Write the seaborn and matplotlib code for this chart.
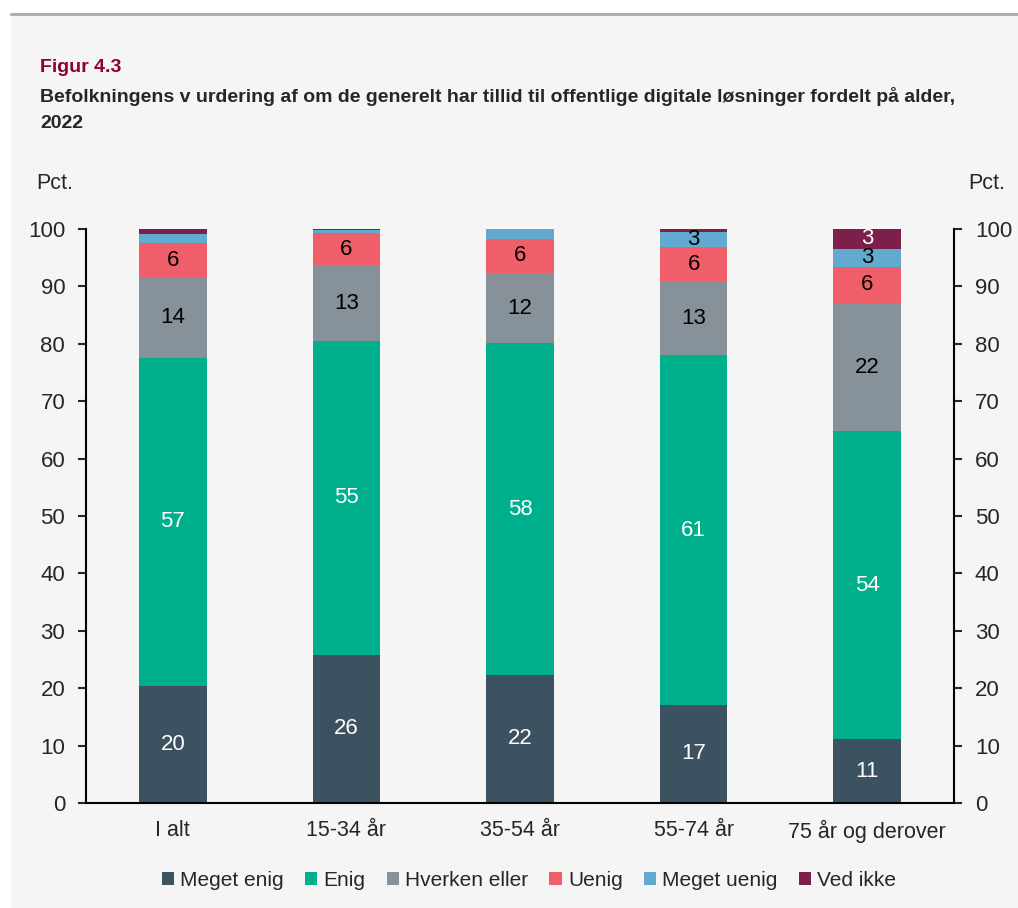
import numpy as np
import seaborn as sns
import matplotlib.pyplot as plt
from matplotlib.patches import Patch, Rectangle
from matplotlib.lines import Line2D

# data (pct.)
groups = ["I alt", "15-34 år", "35-54 år", "55-74 år", "75 år og derover"]
answers = ["Meget enig", "Enig", "Hverken eller", "Uenig", "Meget uenig", "Ved ikke"]
meget_enig = [20.4, 25.8, 22.3, 17.1, 11.1]
enig = [57.2, 54.7, 57.8, 60.9, 53.7]
hverken = [13.9, 13.2, 12.2, 12.9, 22.3]
uenig = [6.0, 5.6, 6.0, 6.0, 6.3]
meget_uenig = [1.7, 0.5, 1.7, 2.6, 3.2]
ved_ikke = [0.8, 0.2, 0.0, 0.5, 3.4]

colors = ["#3d5261", "#00b08c", "#87919a", "#f05f69", "#62aacf", "#7c204b"]
text_colors = ["white", "white", "black", "black", "black", "white"]

sns.set_style("white")
plt.rcParams["font.family"] = ["Liberation Sans", "DejaVu Sans"]

bg = "#f5f5f5"
fig = plt.figure(figsize=(10.18, 9.08), dpi=100)
fig.patch.set_facecolor("white")
fig.patches.append(Rectangle((11 / 1018, 0), 1, 1 - 15 / 908, transform=fig.transFigure,
                             facecolor=bg, edgecolor="none", zorder=-2))
fig.lines.append(Line2D([11 / 1018, 1], [1 - 14 / 908, 1 - 14 / 908], transform=fig.transFigure,
                        color="#b3adaf", linewidth=2.2, zorder=-1))

ax = fig.add_axes([86 / 1018, 1 - 803 / 908, (954 - 86) / 1018, (803 - 229) / 908])
ax.set_facecolor(bg)

series = np.array([meget_enig, enig, hverken, uenig, meget_uenig, ved_ikke])
cum = np.cumsum(series, axis=0)

# draw cumulative bars from the top layer down so each covers the one above
for i in range(len(answers) - 1, -1, -1):
    sns.barplot(x=groups, y=cum[i], color=colors[i], saturation=1, width=0.39,
                errorbar=None, ax=ax, zorder=2, linewidth=0, edgecolor="none")

for i in range(len(answers)):
    for j in range(len(groups)):
        v = series[i, j]
        if v >= 2.5:
            ax.text(j, cum[i, j] - v / 2, f"{round(v):.0f}", ha="center", va="center",
                    fontsize=16, color=text_colors[i], zorder=3)

ax.set_xlim(-0.5, 4.5)
ax.set_ylim(0, 100)
ax.set_yticks(range(0, 101, 10))
ax.tick_params(axis="y", labelsize=16, length=6, width=1.5, direction="out", pad=9,
               left=True, right=True, labelleft=True, labelright=True)
ax.set_xticks(range(len(groups)))
ax.set_xticklabels(groups)
ax.tick_params(axis="x", which="major", length=0, labelsize=15.5, pad=12)
ax.set_xticks(np.arange(0.5, 4.5, 1), minor=True)
ax.tick_params(axis="x", which="minor", length=7, width=1.5, direction="out")
ax.set_xlabel("")
ax.set_ylabel("")
for s in ["left", "right", "bottom"]:
    ax.spines[s].set_visible(True)
    ax.spines[s].set_color("black")
    ax.spines[s].set_linewidth(1.5)
ax.spines["top"].set_visible(False)

fig.text(36 / 1018, 1 - 183 / 908, "Pct.", fontsize=15.5, va="center", ha="left")
fig.text(1005 / 1018, 1 - 183 / 908, "Pct.", fontsize=15.5, va="center", ha="right")

fig.text(40 / 1018, 1 - 67 / 908, "Figur 4.3", fontsize=14, fontweight="bold",
         color="#8c0033", va="center", ha="left")
fig.text(40 / 1018, 1 - 97 / 908,
         "Befolkningens v urdering af om de generelt har tillid til offentlige digitale løsninger fordelt på alder,",
         fontsize=14, fontweight="bold", va="center", ha="left")
fig.text(40 / 1018, 1 - 123 / 908, "2022", fontsize=14, fontweight="bold", va="center", ha="left")

handles = [Patch(facecolor=c, edgecolor="none", label=a) for a, c in zip(answers, colors)]
fig.legend(handles=handles, loc="center", bbox_to_anchor=(529 / 1018, 1 - 880 / 908), ncol=6,
           frameon=False, fontsize=15, handlelength=0.6, handleheight=0.6, handletextpad=0.3,
           columnspacing=1.0)

fig.savefig("out.png", dpi=100, facecolor=fig.get_facecolor())
